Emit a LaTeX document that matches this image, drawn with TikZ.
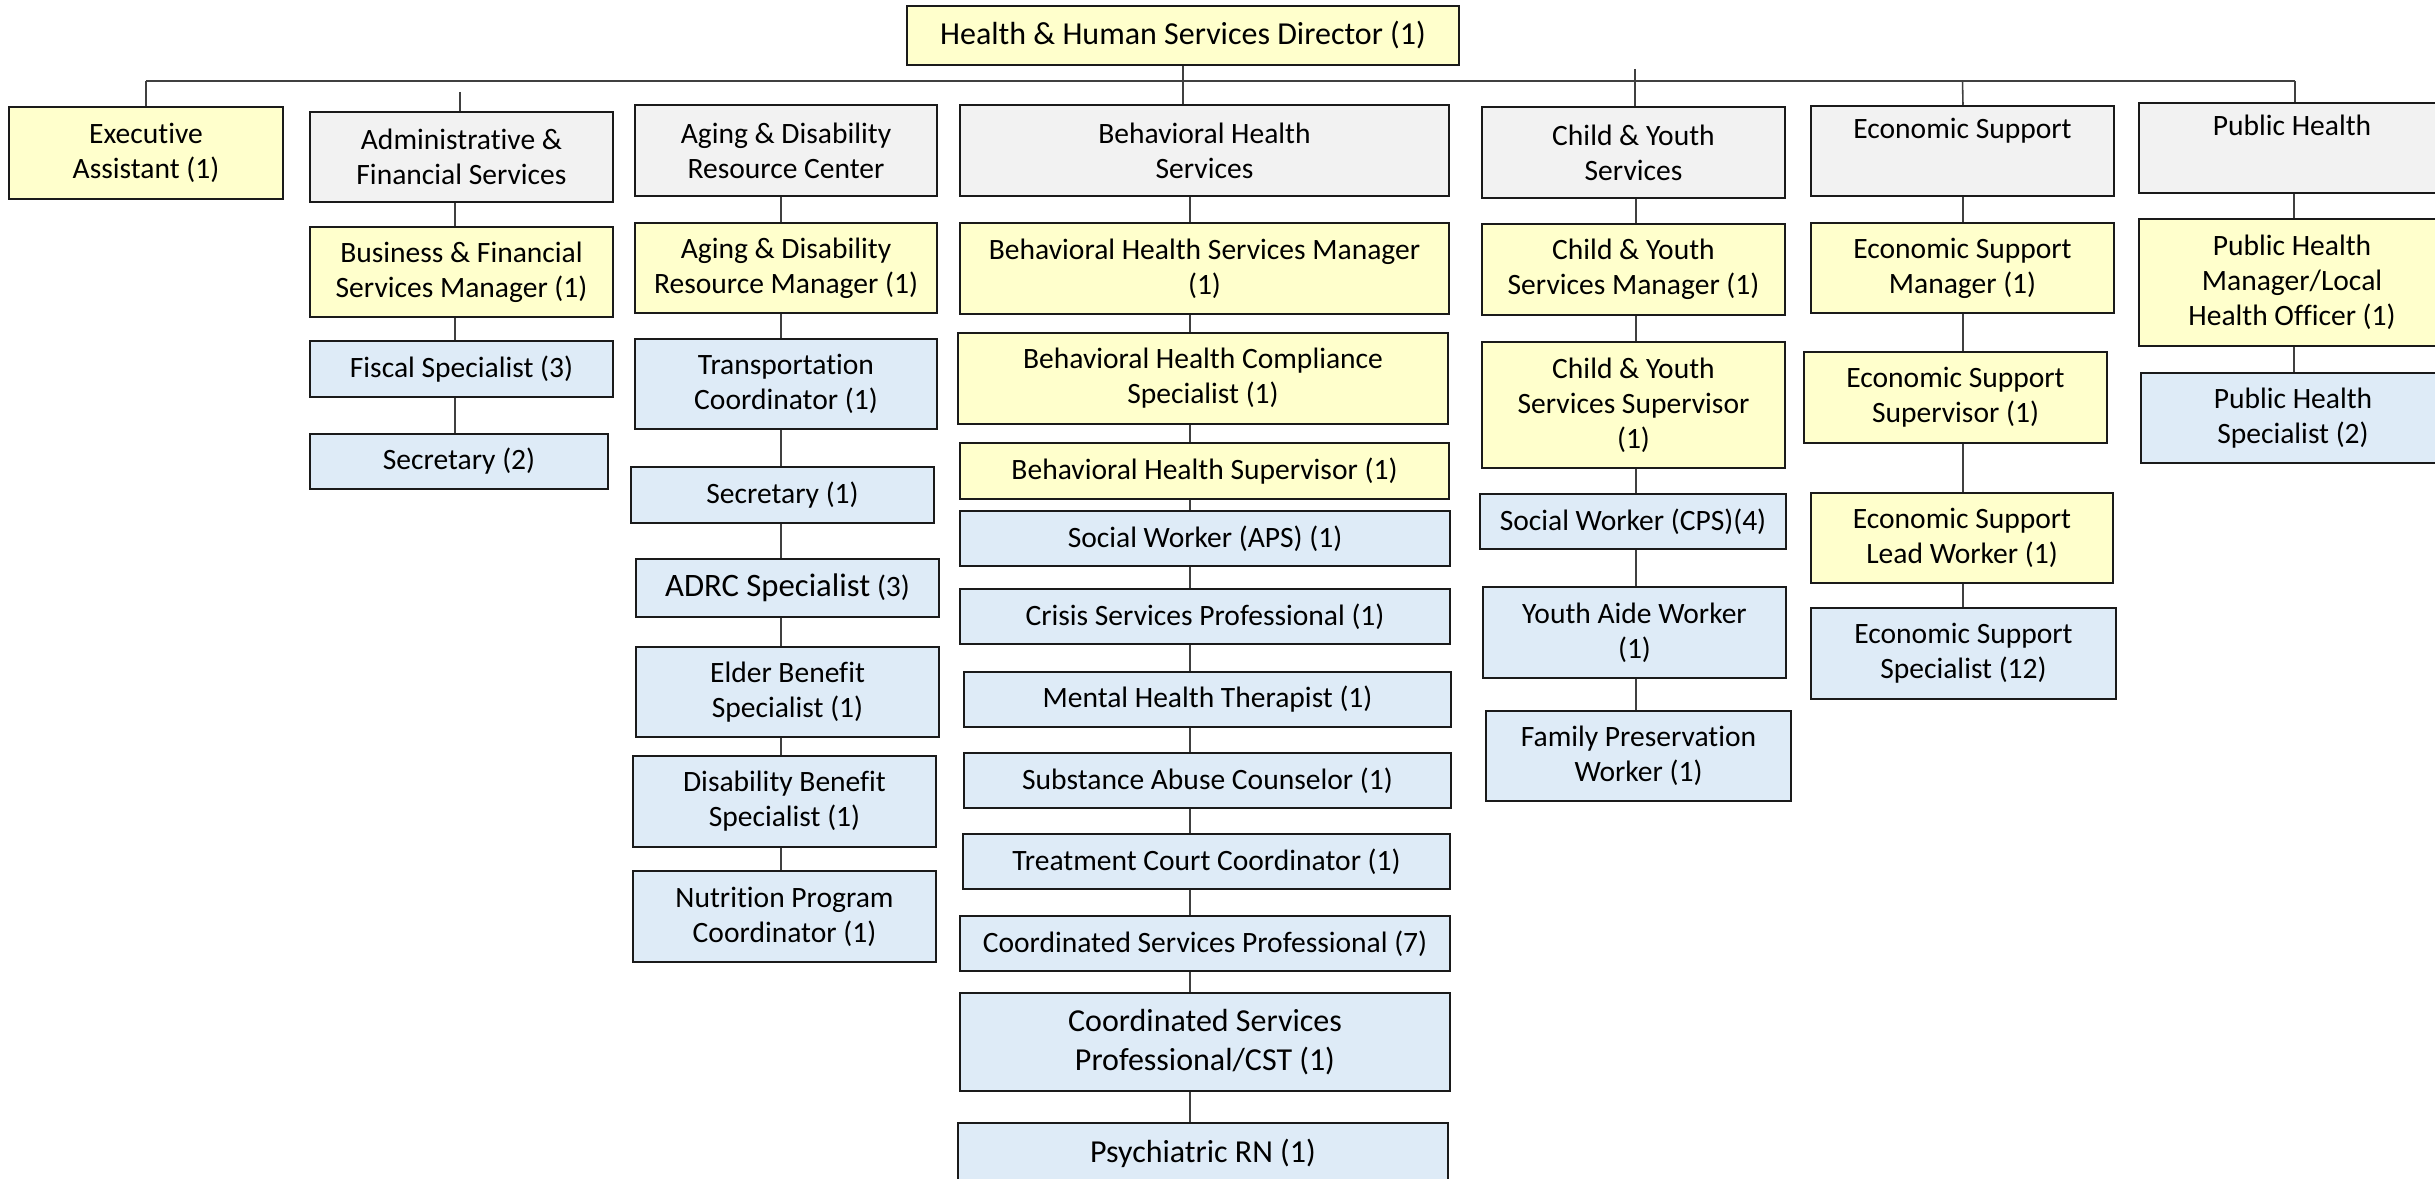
\documentclass[tikz,border=0pt]{standalone}
\usepackage{fontspec}
\setmainfont{Carlito}[Ligatures={NoCommon,NoRare,NoContextual}]
\definecolor{mgrfill}{HTML}{FFFFCC}
\definecolor{deptfill}{HTML}{F2F2F2}
\definecolor{stafffill}{HTML}{DEEBF7}
\definecolor{edge}{HTML}{1A1A1A}
\definecolor{wire}{HTML}{404040}
% \orgbox{name}{style}{x1}{y1}{x2}{y2}{text}: box given by its corners (pixel units)
\newcommand\orgbox[7]{%
  \pgfmathsetmacro\obx{(#3+#5)/2}\pgfmathsetmacro\oby{(#4+#6)/2}%
  \pgfmathsetmacro\obw{(#5-#3)*0.01}\pgfmathsetmacro\obh{(#6-#4)*0.01}%
  \node[#2, minimum width=\obw cm, minimum height=\obh cm] (#1) at (\obx,\oby) {#7};}
\tikzset{
  unit/.style={draw=edge, line width=0.7pt, rectangle, align=center, inner sep=0pt,
    font=\fontsize{8.4}{10}\selectfont},
  mgr/.style={unit, fill=mgrfill},
  dept/.style={unit, fill=deptfill},
  staff/.style={unit, fill=stafffill},
  big/.style={font=\fontsize{9.1}{11}\selectfont},
  conn/.style={draw=wire, line width=0.45pt},
}
\begin{document}
\begin{tikzpicture}[x=0.01cm,y=-0.01cm]
\useasboundingbox (0,0) rectangle (2435,1179);

% director and bus line
\orgbox{dir}{mgr,big}{907}{6}{1459}{65}{Health \& Human Services Director (1)}
\coordinate (busL) at (146,81);
\coordinate (busR) at (2295,81);
\coordinate (admtop) at (460,92);
\coordinate (cytop) at (1635,69);

% executive assistant
\orgbox{exec}{mgr}{9}{107}{283}{199}{Executive\\Assistant (1)}

% administrative & financial services
\orgbox{adm}{dept}{310}{112}{613}{202}{Administrative \&\\Financial Services}
\orgbox{bfm}{mgr}{310}{227}{613}{317}{Business \& Financial\\Services Manager (1)}
\orgbox{fis}{staff}{310}{341}{613}{397}{Fiscal Specialist (3)}
\orgbox{sectwo}{staff}{310}{434}{608}{489}{Secretary (2)}

% aging & disability resource center
\orgbox{adrc}{dept}{635}{105}{937}{196}{Aging \& Disability\\Resource Center}
\orgbox{arm}{mgr}{635}{223}{937}{313}{Aging \& Disability\\Resource Manager (1)}
\orgbox{trc}{staff}{635}{339}{937}{429}{Transportation\\Coordinator (1)}
\orgbox{secone}{staff}{631}{467}{934}{523}{Secretary (1)}
\orgbox{adsp}{staff}{636}{559}{939}{617}{{\fontsize{9.3}{11}\selectfont ADRC Specialist} (3)}
\orgbox{elder}{staff}{636}{647}{939}{737}{Elder Benefit\\Specialist (1)}
\orgbox{disab}{staff}{633}{756}{936}{847}{Disability Benefit\\Specialist (1)}
\orgbox{nutr}{staff}{633}{871}{936}{962}{Nutrition Program\\Coordinator (1)}

% behavioral health services
\orgbox{bhs}{dept}{960}{105}{1449}{196}{Behavioral Health\\Services}
\orgbox{bhm}{mgr}{960}{223}{1449}{314}{Behavioral Health Services Manager\\(1)}
\orgbox{bhc}{mgr}{958}{333}{1448}{424}{Behavioral Health Compliance\\Specialist (1)}
\orgbox{bhsup}{mgr}{960}{443}{1449}{499}{Behavioral Health Supervisor (1)}
\orgbox{swa}{staff}{960}{511}{1450}{566}{Social Worker (APS) (1)}
\orgbox{cri}{staff}{960}{589}{1450}{644}{Crisis Services Professional (1)}
\orgbox{mht}{staff}{964}{672}{1451}{727}{Mental Health Therapist (1)}
\orgbox{sac}{staff}{964}{753}{1451}{808}{Substance Abuse Counselor (1)}
\orgbox{tcc}{staff}{963}{834}{1450}{889}{Treatment Court Coordinator (1)}
\orgbox{csp}{staff}{960}{916}{1450}{971}{Coordinated Services Professional (7)}
\orgbox{cst}{staff,big}{960}{993}{1450}{1091}{Coordinated Services\\Professional/CST (1)}
\orgbox{prn}{staff,big}{958}{1123}{1448}{1184}{Psychiatric RN (1)}

% child & youth services
\orgbox{cys}{dept}{1482}{107}{1785}{198}{Child \& Youth\\Services}
\orgbox{cym}{mgr}{1482}{224}{1785}{315}{Child \& Youth\\Services Manager (1)}
\orgbox{cysup}{mgr}{1482}{342}{1785}{468}{Child \& Youth\\Services Supervisor\\(1)}
\orgbox{swc}{staff}{1480}{494}{1786}{549}{Social Worker (CPS)(4)}
\orgbox{yaw}{staff}{1483}{587}{1786}{678}{Youth Aide Worker\\(1)}
\orgbox{fpw}{staff}{1486}{711}{1791}{801}{Family Preservation\\Worker (1)}

% economic support
\orgbox{es}{dept}{1811}{106}{2114}{196}{Economic Support\\\strut}
\orgbox{esm}{mgr}{1811}{223}{2114}{313}{Economic Support\\Manager (1)}
\orgbox{essup}{mgr}{1804}{352}{2107}{443}{Economic Support\\Supervisor (1)}
\orgbox{eslw}{mgr}{1811}{493}{2113}{583}{Economic Support\\Lead Worker (1)}
\orgbox{essp}{staff}{1811}{608}{2116}{699}{Economic Support\\Specialist (12)}

% public health
\orgbox{ph}{dept}{2139}{103}{2445}{193}{Public Health\\\strut}
\orgbox{phm}{mgr}{2139}{219}{2445}{346}{Public Health\\Manager/Local\\Health Officer (1)}
\orgbox{phs}{staff}{2141}{373}{2445}{463}{Public Health\\Specialist (2)}

% column axes for the vertical connectors
\coordinate (colA) at (455,0);
\coordinate (colB) at (781,0);
\coordinate (colC) at (1190,0);
\coordinate (colD) at (1636,0);
\coordinate (colE) at (1963,0);
\coordinate (colF) at (2294,0);

% top level
\draw[conn] (busL) -- (busR);
\draw[conn] (dir.south) -- (bhs.north -| dir.south);
\draw[conn] (busL) -- (exec.north -| busL);
\draw[conn] (admtop) -- (adm.north -| admtop);
\draw[conn] (cytop) -- (cys.north -| cytop);
\draw[conn] (es.north |- busL) -- (es.north -| colE);
\draw[conn] (busR) -- (ph.north -| busR);

% vertical chains inside each department
\foreach \a/\b in {adm/bfm, bfm/fis, fis/sectwo}
  \draw[conn] (\a.south -| colA) -- (\b.north -| colA);
\foreach \a/\b in {adrc/arm, arm/trc, trc/secone, secone/adsp, adsp/elder, elder/disab, disab/nutr}
  \draw[conn] (\a.south -| colB) -- (\b.north -| colB);
\foreach \a/\b in {bhs/bhm, bhm/bhc, bhc/bhsup, bhsup/swa, swa/cri, cri/mht, mht/sac, sac/tcc, tcc/csp, csp/cst, cst/prn}
  \draw[conn] (\a.south -| colC) -- (\b.north -| colC);
\foreach \a/\b in {cys/cym, cym/cysup, cysup/swc, swc/yaw, yaw/fpw}
  \draw[conn] (\a.south -| colD) -- (\b.north -| colD);
\foreach \a/\b in {es/esm, esm/essup, essup/eslw, eslw/essp}
  \draw[conn] (\a.south -| colE) -- (\b.north -| colE);
\foreach \a/\b in {ph/phm, phm/phs}
  \draw[conn] (\a.south -| colF) -- (\b.north -| colF);
\end{tikzpicture}
\end{document}
